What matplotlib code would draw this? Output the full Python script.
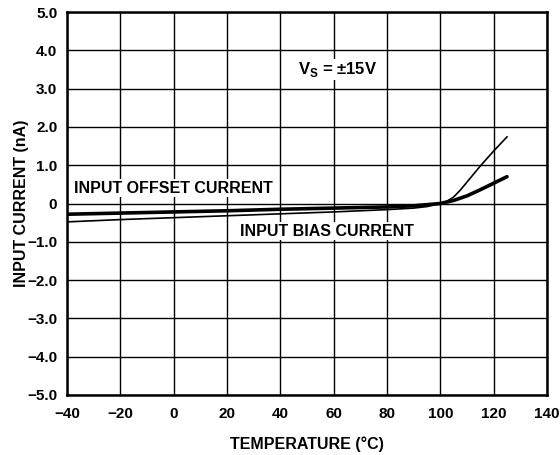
import numpy as np
import matplotlib
matplotlib.use("Agg")
import matplotlib.pyplot as plt

plt.rcParams['font.family'] = ['Liberation Sans', 'DejaVu Sans']
plt.rcParams['font.weight'] = 'bold'
plt.rcParams['mathtext.fontset'] = 'custom'
plt.rcParams['mathtext.bf'] = 'Liberation Sans:bold'
plt.rcParams['mathtext.rm'] = 'Liberation Sans:bold'

# Input offset current vs temperature (thick curve)
offset_temp = [-40, -20, 0, 20, 40, 60, 80, 90, 100, 105, 110, 115, 120, 125]
offset_na = [-0.28, -0.25, -0.22, -0.19, -0.15, -0.12, -0.09, -0.06, 0.0, 0.08, 0.2, 0.36, 0.53, 0.7]

# Input bias current vs temperature (thin curve)
bias_temp = [-40, -20, 0, 20, 40, 60, 80, 90, 95, 100, 102.5, 105, 107.5, 110, 115, 120, 125]
bias_na = [-0.48, -0.42, -0.37, -0.32, -0.27, -0.22, -0.16, -0.12, -0.08, 0.0,
           0.06, 0.17, 0.35, 0.56, 0.98, 1.37, 1.74]

x_ticks = [-40, -20, 0, 20, 40, 60, 80, 100, 120, 140]
x_tick_labels = ['\u221240', '\u221220', '0', '20', '40', '60', '80', '100', '120', '140']
y_ticks = [-5, -4, -3, -2, -1, 0, 1, 2, 3, 4, 5]
y_tick_labels = ['\u22125.0', '\u22124.0', '\u22123.0', '\u22122.0', '\u22121.0', '0',
                 '1.0', '2.0', '3.0', '4.0', '5.0']

fig = plt.figure(figsize=(5.6, 4.55), dpi=100)
ax = fig.add_axes([67 / 560, 1 - 395 / 455, 480 / 560, 383 / 455])

ax.plot(offset_temp, offset_na, color='black', lw=2.6, solid_capstyle='round')
ax.plot(bias_temp, bias_na, color='black', lw=1.2)

ax.set_xlim(-40, 140)
ax.set_ylim(-5, 5)
ax.set_xticks(x_ticks)
ax.set_xticklabels(x_tick_labels)
ax.set_yticks(y_ticks)
ax.set_yticklabels(y_tick_labels)
ax.tick_params(length=0, labelsize=11)
ax.tick_params(axis='y', pad=7)
ax.tick_params(axis='x', pad=9)
for lbl in ax.get_xticklabels() + ax.get_yticklabels():
    lbl.set_fontweight('bold')

ax.grid(True, color='black', lw=1.0)
for s in ax.spines.values():
    s.set_linewidth(1.8)
    s.set_color('black')

ax.set_xlabel('TEMPERATURE (\u00b0C)', fontsize=11.5, fontweight='bold', labelpad=11)
ax.set_ylabel('INPUT CURRENT (nA)', fontsize=11.5, fontweight='bold', labelpad=-1)

box = dict(facecolor='white', edgecolor='none', pad=1)
ax.text(46.5, 3.5, r'V$_\mathbf{S}$ = ' + '\u00b115V', fontsize=12, fontweight='bold',
        va='center', ha='left', bbox=box)
ax.text(-37.5, 0.4, 'INPUT OFFSET CURRENT', fontsize=11.5, fontweight='bold',
        va='center', ha='left', bbox=box)
ax.text(25, -0.72, 'INPUT BIAS CURRENT', fontsize=11.5, fontweight='bold',
        va='center', ha='left', bbox=box)

fig.savefig('out.png', dpi=100)
